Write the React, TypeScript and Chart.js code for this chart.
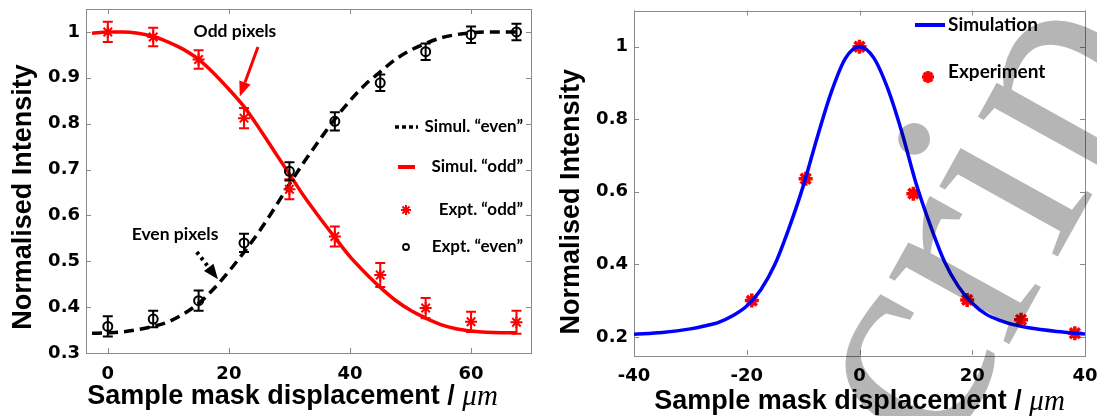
import React, { useEffect, useRef } from "react";
import { Chart, registerables } from "chart.js";

Chart.register(...registerables);

// ---------- Left panel data ----------
const LEFT_X_TICKS = [0, 20, 40, 60];
const LEFT_Y_TICKS = [0.3, 0.4, 0.5, 0.6, 0.7, 0.8, 0.9, 1];
const EXPT_X = [0, 7.5, 15, 22.5, 30, 37.5, 45, 52.5, 60, 67.5];
const EXPT_ODD = [1.0, 0.989, 0.94, 0.812, 0.657, 0.554, 0.47, 0.398, 0.368, 0.367];
const EXPT_ODD_ERR = [0.022, 0.02, 0.02, 0.022, 0.022, 0.022, 0.026, 0.022, 0.022, 0.025];
const EXPT_EVEN = [0.358, 0.374, 0.414, 0.54, 0.696, 0.805, 0.889, 0.957, 0.994, 1.0];
const EXPT_EVEN_ERR = [0.022, 0.018, 0.022, 0.02, 0.02, 0.02, 0.018, 0.018, 0.018, 0.018];
const SIM_X = [-2.6, 0, 2.5, 5, 7.5, 10, 12.5, 15, 17.5, 20, 22.5, 25, 27.5, 30, 32.5, 35, 37.5, 40, 42.5, 45, 47.5, 50, 52.5, 55, 57.5, 60, 62.5, 65, 67.5];
const SIM_ODD = [0.997, 1.0, 1.0, 0.997, 0.99, 0.978, 0.962, 0.94, 0.91, 0.875, 0.837, 0.79, 0.74, 0.69, 0.64, 0.595, 0.552, 0.51, 0.475, 0.443, 0.415, 0.393, 0.376, 0.362, 0.353, 0.348, 0.345, 0.344, 0.344];
const SIM_EVEN = [0.343, 0.344, 0.346, 0.351, 0.358, 0.368, 0.385, 0.408, 0.44, 0.478, 0.52, 0.565, 0.615, 0.668, 0.718, 0.765, 0.81, 0.85, 0.885, 0.913, 0.94, 0.96, 0.975, 0.987, 0.994, 0.998, 1.0, 1.0, 1.0];

// ---------- Right panel data ----------
const RIGHT_X_TICKS = [-40, -20, 0, 20, 40];
const RIGHT_Y_TICKS = [0.2, 0.4, 0.6, 0.8, 1];
const SIM2_X = [-40, -35, -30, -27.5, -25, -22.5, -20, -17.5, -15, -12.5, -10, -7.5, -5, -2.5, 0, 2.5, 5, 7.5, 10, 12.5, 15, 17.5, 20, 22.5, 25, 27.5, 30, 35, 40];
const SIM2_Y = [0.207, 0.212, 0.222, 0.23, 0.24, 0.258, 0.285, 0.33, 0.4, 0.5, 0.615, 0.75, 0.875, 0.968, 1.0, 0.97, 0.885, 0.765, 0.625, 0.51, 0.41, 0.34, 0.293, 0.262, 0.245, 0.233, 0.225, 0.215, 0.208];
const EXP2_X = [-19.1, -9.55, 0, 9.55, 19.1, 28.65, 38.2];
const EXP2_Y = [0.3, 0.636, 1.0, 0.595, 0.302, 0.247, 0.21];

// ---------- Text ----------
const X_TITLE = "Sample mask displacement / ";
const X_TITLE_UNIT = "\u03bcm";
const Y_TITLE = "Normalised Intensity";
const LEFT_LEGEND = ["Simul. \u201ceven\u201d", "Simul. \u201codd\u201d", "Expt. \u201codd\u201d", "Expt. \u201ceven\u201d"];
const RIGHT_LEGEND = ["Simulation", "Experiment"];
const WATERMARK = "Manuscript";

const TICK_FONT = { family: "'DejaVu Sans', sans-serif", size: 18, weight: "bold" as const };
const TITLE_FONT = "bold 27px 'Liberation Sans', Arial, sans-serif";
const UNIT_FONT = "italic 29px 'Liberation Serif', serif";
const NOTE_FONT = "bold 17.5px Lato, 'Open Sans', sans-serif";
const LEGEND_FONT = "bold 17px Lato, 'Open Sans', sans-serif";
const NOTE_FONT_BIG = "bold 19px Lato, 'Open Sans', sans-serif";

const RED = "#ff0000";
const BLUE = "#0000ff";
const FRAME = "#8a8a8a";

function pts(xs: number[], ys: number[]) {
  return xs.map((x, i) => ({ x, y: ys[i] }));
}

const framePlugin = {
  id: "frame",
  beforeDatasetsDraw(chart: any) {
    const { ctx, chartArea: a, scales } = chart;
    ctx.save();
    ctx.strokeStyle = FRAME;
    ctx.lineWidth = 1;
    ctx.strokeRect(Math.round(a.left) + 0.5, Math.round(a.top) + 0.5, Math.round(a.right - a.left), Math.round(a.bottom - a.top));
    const L = 5;
    ctx.beginPath();
    scales.x.ticks.forEach((t: any) => {
      const p = Math.round(scales.x.getPixelForValue(t.value)) + 0.5;
      ctx.moveTo(p, a.bottom); ctx.lineTo(p, a.bottom - L);
      ctx.moveTo(p, a.top); ctx.lineTo(p, a.top + L);
    });
    scales.y.ticks.forEach((t: any) => {
      const p = Math.round(scales.y.getPixelForValue(t.value)) + 0.5;
      ctx.moveTo(a.left, p); ctx.lineTo(a.left + L, p);
      ctx.moveTo(a.right, p); ctx.lineTo(a.right - L, p);
    });
    ctx.stroke();
    ctx.restore();
  },
};

const errorBarPlugin = {
  id: "errbars",
  afterDatasetsDraw(chart: any) {
    const { ctx, scales } = chart;
    chart.data.datasets.forEach((ds: any) => {
      if (!ds.errors) return;
      ctx.save();
      ctx.strokeStyle = ds.errColor;
      ctx.lineWidth = 2;
      ds.data.forEach((p: any, i: number) => {
        const e = ds.errors[i];
        const x = scales.x.getPixelForValue(p.x);
        const y1 = scales.y.getPixelForValue(p.y - e);
        const y2 = scales.y.getPixelForValue(p.y + e);
        ctx.beginPath();
        ctx.moveTo(x, y1); ctx.lineTo(x, y2);
        ctx.moveTo(x - 5, y1); ctx.lineTo(x + 5, y1);
        ctx.moveTo(x - 5, y2); ctx.lineTo(x + 5, y2);
        ctx.stroke();
      });
      ctx.restore();
    });
  },
};

function drawTitles(chart: any, xOffset: number, xTitleY: number, yTitleX: number, yTitleOffset: number) {
  const { ctx, chartArea: a } = chart;
  ctx.save();
  ctx.fillStyle = "#000";
  ctx.textBaseline = "middle";
  ctx.font = TITLE_FONT;
  const w1 = ctx.measureText(X_TITLE).width;
  ctx.font = UNIT_FONT;
  const w2 = ctx.measureText(X_TITLE_UNIT).width;
  const cx = (a.left + a.right) / 2 + xOffset;
  const start = cx - (w1 + w2) / 2;
  ctx.font = TITLE_FONT;
  ctx.textAlign = "left";
  ctx.fillText(X_TITLE, start, xTitleY);
  ctx.font = UNIT_FONT;
  ctx.fillText(X_TITLE_UNIT, start + w1, xTitleY);
  ctx.translate(yTitleX, (a.top + a.bottom) / 2 + yTitleOffset);
  ctx.rotate(-Math.PI / 2);
  ctx.font = TITLE_FONT;
  ctx.textAlign = "center";
  ctx.fillText(Y_TITLE, 0, 0);
  ctx.restore();
}

function drawStar(ctx: any, x: number, y: number, r: number, color: string, lw: number) {
  ctx.save();
  ctx.strokeStyle = color;
  ctx.lineWidth = lw;
  ctx.beginPath();
  for (let k = 0; k < 4; k++) {
    const ang = (k * Math.PI) / 4;
    ctx.moveTo(x - r * Math.cos(ang), y - r * Math.sin(ang));
    ctx.lineTo(x + r * Math.cos(ang), y + r * Math.sin(ang));
  }
  ctx.stroke();
  ctx.restore();
}

function arrow(ctx: any, x1: number, y1: number, x2: number, y2: number, color: string, lw: number, dash: number[]) {
  const ang = Math.atan2(y2 - y1, x2 - x1);
  const hl = 15, hw = 6;
  const bx = x2 - hl * Math.cos(ang), by = y2 - hl * Math.sin(ang);
  ctx.save();
  ctx.strokeStyle = color;
  ctx.fillStyle = color;
  ctx.lineWidth = lw;
  ctx.setLineDash(dash);
  ctx.beginPath();
  ctx.moveTo(x1, y1);
  ctx.lineTo(bx, by);
  ctx.stroke();
  ctx.setLineDash([]);
  ctx.beginPath();
  ctx.moveTo(x2, y2);
  ctx.lineTo(bx + hw * Math.sin(ang), by - hw * Math.cos(ang));
  ctx.lineTo(bx - hw * Math.sin(ang), by + hw * Math.cos(ang));
  ctx.closePath();
  ctx.fill();
  ctx.restore();
}

const leftOverlay = {
  id: "leftOverlay",
  afterDraw(chart: any) {
    const { ctx, chartArea: a, scales } = chart;
    const X = (v: number) => scales.x.getPixelForValue(v);
    const Y = (v: number) => scales.y.getPixelForValue(v);
    drawTitles(chart, -16, 397, 24, 16);
    // annotations
    ctx.save();
    ctx.font = NOTE_FONT;
    ctx.fillStyle = "#000";
    ctx.textAlign = "center";
    ctx.textBaseline = "middle";
    ctx.fillText("Odd pixels", X(21), Y(1.002));
    ctx.fillText("Even pixels", X(11.1), Y(0.559));
    ctx.restore();
    arrow(ctx, X(24.8), Y(0.967), X(21.8), Y(0.859), RED, 3, []);
    arrow(ctx, X(14.7), Y(0.52), X(18.2), Y(0.461), "#000", 4, [3, 4]);
    // legend
    const textRight = a.right - 8;
    const sx = a.right - 126;
    const rows = [127, 167, 210, 247].map((v) => v - 9 + a.top);
    ctx.save();
    ctx.font = LEGEND_FONT;
    ctx.fillStyle = "#000";
    ctx.textAlign = "right";
    ctx.textBaseline = "middle";
    LEFT_LEGEND.forEach((t, i) => ctx.fillText(t, textRight, rows[i]));
    ctx.lineWidth = 3.5;
    ctx.strokeStyle = "#000";
    ctx.setLineDash([4, 3]);
    ctx.beginPath(); ctx.moveTo(sx - 10, rows[0]); ctx.lineTo(sx + 13, rows[0]); ctx.stroke();
    ctx.setLineDash([]);
    ctx.strokeStyle = RED;
    ctx.lineWidth = 4;
    ctx.beginPath(); ctx.moveTo(sx - 7, rows[1]); ctx.lineTo(sx + 10, rows[1]); ctx.stroke();
    drawStar(ctx, sx + 1, rows[2], 5, RED, 2);
    ctx.strokeStyle = "#000";
    ctx.lineWidth = 1.8;
    ctx.beginPath(); ctx.arc(sx + 1, rows[3], 3, 0, Math.PI * 2); ctx.stroke();
    ctx.restore();
  },
};

const rightOverlay = {
  id: "rightOverlay",
  afterDraw(chart: any) {
    const { ctx, chartArea: a } = chart;
    drawTitles(chart, 0, 402, 27, 19);
    // legend
    ctx.save();
    ctx.font = NOTE_FONT_BIG;
    ctx.fillStyle = "#000";
    ctx.textAlign = "left";
    ctx.textBaseline = "middle";
    const tx = a.left + 314;
    ctx.fillText(RIGHT_LEGEND[0], tx, 25);
    ctx.fillText(RIGHT_LEGEND[1], tx, 72);
    ctx.strokeStyle = BLUE;
    ctx.lineWidth = 4;
    ctx.beginPath(); ctx.moveTo(tx - 33, 25); ctx.lineTo(tx - 3, 25); ctx.stroke();
    drawStar(ctx, tx - 20, 77, 6, RED, 3.5);
    ctx.restore();
    // watermark
    ctx.save();
    ctx.globalCompositeOperation = "multiply";
    ctx.fillStyle = "#b5b5b5";
    ctx.font = "300px 'Liberation Serif', serif";
    const wM = ctx.measureText("Manus").width;
    const wc = ctx.measureText("c").width;
    ctx.translate(370, 375);
    ctx.rotate((-61 * Math.PI) / 180);
    ctx.textBaseline = "alphabetic";
    ctx.textAlign = "left";
    ctx.fillText(WATERMARK, -wM - wc / 2, 0.45 * 300 / 2);
    ctx.restore();
  },
};

function scaleOpts(min: number, max: number, ticks: number[], axis: "x" | "y", size: number) {
  return {
    type: "linear" as const,
    min,
    max,
    grid: { display: false, drawTicks: false },
    border: { display: false },
    ticks: {
      font: TICK_FONT,
      color: "#000",
      padding: axis === "x" ? 11 : 6,
      autoSkip: false,
      maxRotation: 0,
      callback: (v: number) => String(Math.round(v * 10) / 10),
    },
    afterBuildTicks: (s: any) => {
      s.ticks = ticks.map((v) => ({ value: v }));
    },
    afterFit: (s: any) => {
      if (axis === "x") s.height = size;
      else s.width = size;
      s.paddingTop = 0;
      s.paddingBottom = 0;
      s.paddingLeft = 0;
      s.paddingRight = 0;
    },
  };
}

function useChart(ref: React.RefObject<HTMLCanvasElement>, makeConfig: () => any) {
  useEffect(() => {
    if (!ref.current) return;
    const chart = new Chart(ref.current, makeConfig());
    return () => chart.destroy();
  }, []);
}

function leftConfig() {
  return {
    type: "scatter" as const,
    data: {
      datasets: [
        {
          label: "Expt. odd",
          data: pts(EXPT_X, EXPT_ODD),
          errors: EXPT_ODD_ERR,
          errColor: RED,
          pointStyle: "star",
          pointRadius: 6,
          borderColor: RED,
          borderWidth: 2,
          backgroundColor: RED,
          showLine: false,
          order: 0,
        },
        {
          label: "Expt. even",
          data: pts(EXPT_X, EXPT_EVEN),
          errors: EXPT_EVEN_ERR,
          errColor: "#000",
          pointStyle: "circle",
          pointRadius: 4.5,
          borderColor: "#000",
          borderWidth: 2,
          backgroundColor: "rgba(0,0,0,0)",
          showLine: false,
          order: 1,
        },
        {
          label: "Simul. odd",
          data: pts(SIM_X, SIM_ODD),
          showLine: true,
          borderColor: RED,
          borderWidth: 3.5,
          pointRadius: 0,
          cubicInterpolationMode: "monotone",
          order: 2,
        },
        {
          label: "Simul. even",
          data: pts(SIM_X, SIM_EVEN),
          showLine: true,
          borderColor: "#000",
          borderWidth: 3.5,
          borderDash: [10, 6],
          pointRadius: 0,
          cubicInterpolationMode: "monotone",
          order: 3,
        },
      ],
    },
    options: {
      responsive: false,
      animation: false,
      layout: { padding: { top: 9, right: 14, left: 0, bottom: 0 } },
      plugins: { legend: { display: false }, tooltip: { enabled: false } },
      scales: {
        x: scaleOpts(-3.6, 69.9, LEFT_X_TICKS, "x", 63),
        y: scaleOpts(0.3, 1.05, LEFT_Y_TICKS, "y", 86),
      },
    },
    plugins: [framePlugin, errorBarPlugin, leftOverlay],
  };
}

function rightConfig() {
  return {
    type: "scatter" as const,
    data: {
      datasets: [
        {
          label: "Simulation",
          data: pts(SIM2_X, SIM2_Y),
          showLine: true,
          borderColor: BLUE,
          borderWidth: 3.5,
          pointRadius: 0,
          cubicInterpolationMode: "monotone",
          order: 0,
        },
        {
          label: "Experiment",
          data: pts(EXP2_X, EXP2_Y),
          pointStyle: "star",
          pointRadius: 7,
          borderColor: RED,
          borderWidth: 3.5,
          backgroundColor: RED,
          showLine: false,
          order: 1,
        },
      ],
    },
    options: {
      responsive: false,
      animation: false,
      layout: { padding: { top: 9, right: 12, left: 0, bottom: 0 } },
      plugins: { legend: { display: false }, tooltip: { enabled: false } },
      scales: {
        x: scaleOpts(-40, 40, RIGHT_X_TICKS, "x", 61),
        y: scaleOpts(0.15, 1.1, RIGHT_Y_TICKS, "y", 89),
      },
    },
    plugins: [framePlugin, rightOverlay],
  };
}

export default function App() {
  const leftRef = useRef<HTMLCanvasElement>(null);
  const rightRef = useRef<HTMLCanvasElement>(null);
  useChart(leftRef, leftConfig);
  useChart(rightRef, rightConfig);
  return (
    <div style={{ position: "fixed", left: 0, top: 0, width: 1097, height: 416, background: "#fff", overflow: "hidden" }}>
      <canvas ref={leftRef} width={545} height={416} style={{ position: "absolute", left: 0, top: 0 }} />
      <canvas ref={rightRef} width={552} height={416} style={{ position: "absolute", left: 545, top: 0 }} />
    </div>
  );
}
